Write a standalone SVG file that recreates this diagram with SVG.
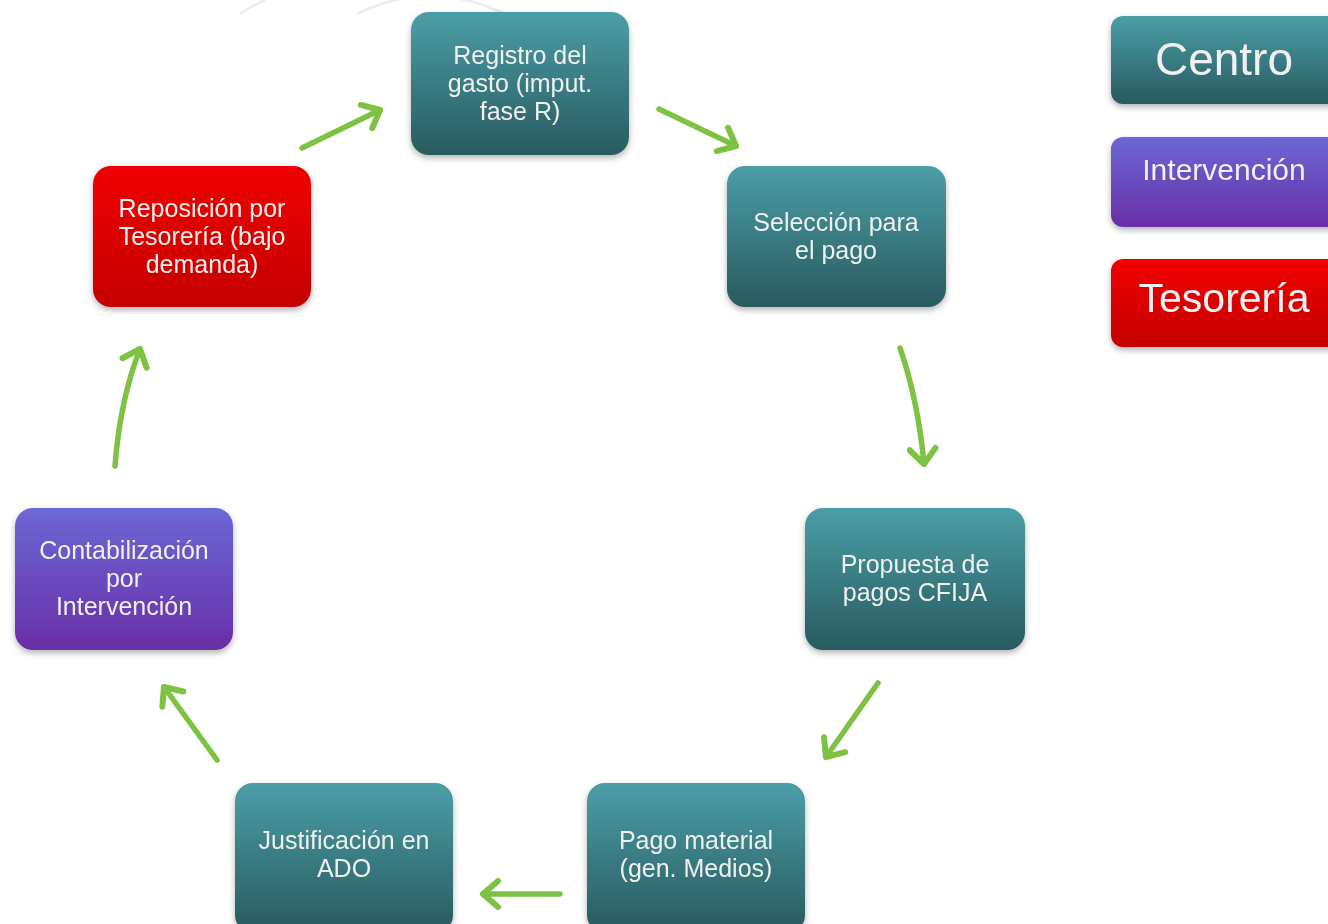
<svg xmlns="http://www.w3.org/2000/svg" width="1328" height="924" viewBox="0 0 1328 924">
<defs>
<linearGradient id="gT" x1="0" y1="0" x2="0" y2="1"><stop offset="0" stop-color="#4b9ea7"/><stop offset="1" stop-color="#285a5e"/></linearGradient>
<linearGradient id="gP" x1="0" y1="0" x2="0" y2="1"><stop offset="0" stop-color="#6c68d6"/><stop offset="1" stop-color="#6a2ea6"/></linearGradient>
<linearGradient id="gR" x1="0" y1="0" x2="0" y2="1"><stop offset="0" stop-color="#f20000"/><stop offset="1" stop-color="#c40404"/></linearGradient>
<filter id="sh" x="-10%" y="-10%" width="120%" height="130%"><feDropShadow dx="0" dy="3" stdDeviation="3" flood-color="#000" flood-opacity="0.3"/></filter>
<marker id="ah" markerUnits="userSpaceOnUse" markerWidth="32" markerHeight="32" refX="23" refY="16" orient="auto" viewBox="0 0 32 32">
<path d="M8,3 L23,16 L8,29" fill="none" stroke="#7dc242" stroke-width="6" stroke-linecap="round" stroke-linejoin="round"/>
</marker>
<style>
.n{filter:url(#sh)}
.t{font-family:"Liberation Sans",Arial,sans-serif;font-size:25px;fill:#f0f0f0;text-anchor:middle}
.c{fill:none;stroke:#7dc242;stroke-width:5.5;stroke-linecap:round;marker-end:url(#ah)}
</style>
</defs>
<rect width="1328" height="924" fill="#fff"/>
<g fill="none" stroke="#ececec" stroke-width="2.5">
<path d="M240,14 Q252,6 265,0"/>
<path d="M357,14 Q430,-22 505,14"/>
</g>
<g id="connectors">
<path class="c" d="M302,148 L380,110"/>
<path class="c" d="M659,109 L736,146"/>
<path class="c" d="M900,348 Q918,400 924,464"/>
<path class="c" d="M878,683 L826,757"/>
<path class="c" d="M560,894 L483,894"/>
<path class="c" d="M217,760 L164,687"/>
<path class="c" d="M115,466 Q120,400 140,349"/>
</g>
<g id="registro" class="n"><rect x="411" y="12" width="218" height="143" rx="18" fill="url(#gT)"/>
<text class="t"><tspan x="520" y="64">Registro del</tspan><tspan x="520" y="92">gasto (imput.</tspan><tspan x="520" y="120">fase R)</tspan></text></g>
<g id="seleccion" class="n"><rect x="727" y="166" width="219" height="141" rx="18" fill="url(#gT)"/>
<text class="t"><tspan x="836" y="231">Selección para</tspan><tspan x="836" y="259">el pago</tspan></text></g>
<g id="propuesta" class="n"><rect x="805" y="508" width="220" height="142" rx="18" fill="url(#gT)"/>
<text class="t"><tspan x="915" y="573">Propuesta de</tspan><tspan x="915" y="601">pagos CFIJA</tspan></text></g>
<g id="pago" class="n"><rect x="587" y="783" width="218" height="150" rx="18" fill="url(#gT)"/>
<text class="t"><tspan x="696" y="849">Pago material</tspan><tspan x="696" y="877">(gen. Medios)</tspan></text></g>
<g id="justificacion" class="n"><rect x="235" y="783" width="218" height="150" rx="18" fill="url(#gT)"/>
<text class="t"><tspan x="344" y="849">Justificación en</tspan><tspan x="344" y="877">ADO</tspan></text></g>
<g id="contabilizacion" class="n"><rect x="15" y="508" width="218" height="142" rx="18" fill="url(#gP)"/>
<text class="t"><tspan x="124" y="559">Contabilización</tspan><tspan x="124" y="587">por</tspan><tspan x="124" y="615">Intervención</tspan></text></g>
<g id="reposicion" class="n"><rect x="93" y="166" width="218" height="141" rx="18" fill="url(#gR)"/>
<text class="t"><tspan x="202" y="217">Reposición  por</tspan><tspan x="202" y="245">Tesorería  (bajo</tspan><tspan x="202" y="273">demanda)</tspan></text></g>
<g id="leg-centro" class="n"><rect x="1111" y="16" width="235" height="88" rx="12" fill="url(#gT)"/>
<text class="t" x="1224" y="75" style="font-size:46px">Centro</text></g>
<g id="leg-intervencion" class="n"><rect x="1111" y="137" width="235" height="90" rx="12" fill="url(#gP)"/>
<text class="t" x="1224" y="180" style="font-size:30px">Intervención</text></g>
<g id="leg-tesoreria" class="n"><rect x="1111" y="259" width="235" height="88" rx="12" fill="url(#gR)"/>
<text class="t" x="1224" y="312" style="font-size:41px">Tesorería</text></g>
</svg>
